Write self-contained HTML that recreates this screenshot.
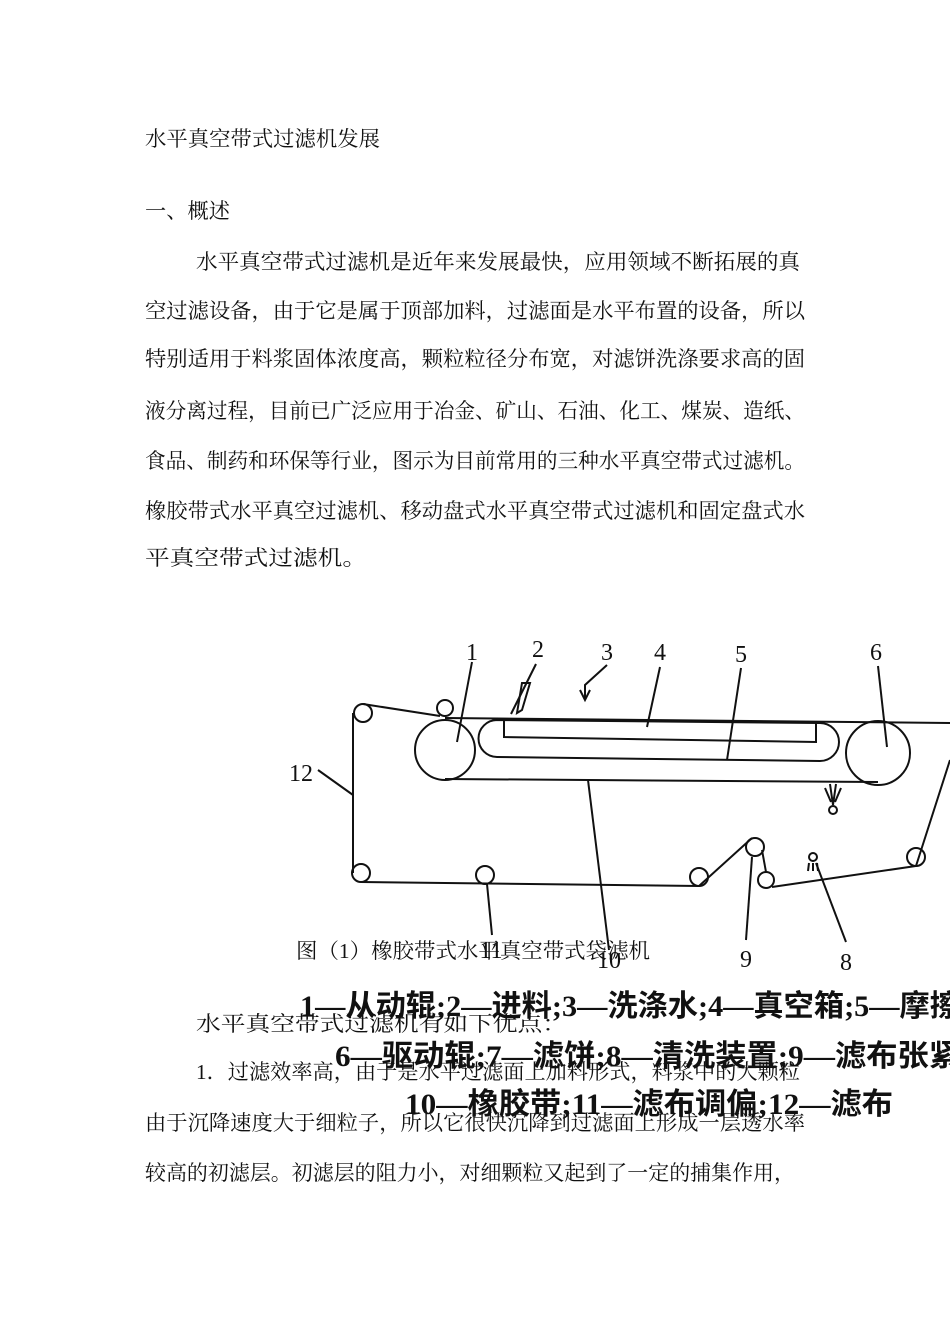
<!DOCTYPE html>
<html><head><meta charset="utf-8"><style>
html,body{margin:0;padding:0;background:#fff;width:950px;height:1344px;overflow:hidden}
svg text{font-family:"Liberation Serif","Noto Serif CJK SC","Noto Sans CJK SC",serif;fill:#111}
.b{font-size:21px}
.lg{font-family:"Liberation Serif","Noto Sans CJK SC",serif;font-weight:bold;font-size:30px}
.n{font-size:24px}
</style></head><body>
<svg width="950" height="1344" viewBox="0 0 950 1344" xmlns="http://www.w3.org/2000/svg">
<text x="145" y="146" textLength="235" lengthAdjust="spacingAndGlyphs" class="b">水平真空带式过滤机发展</text>
<text x="145" y="218" textLength="85" lengthAdjust="spacingAndGlyphs" class="b">一、概述</text>
<text x="196" y="269" textLength="604" lengthAdjust="spacingAndGlyphs" class="b">水平真空带式过滤机是近年来发展最快，应用领域不断拓展的真</text>
<text x="145" y="318" textLength="660" lengthAdjust="spacingAndGlyphs" class="b">空过滤设备，由于它是属于顶部加料，过滤面是水平布置的设备，所以</text>
<text x="145" y="366" textLength="660" lengthAdjust="spacingAndGlyphs" class="b">特别适用于料浆固体浓度高，颗粒粒径分布宽，对滤饼洗涤要求高的固</text>
<text x="145" y="418" textLength="660" lengthAdjust="spacingAndGlyphs" class="b">液分离过程，目前已广泛应用于冶金、矿山、石油、化工、煤炭、造纸、</text>
<text x="145" y="468" textLength="660" lengthAdjust="spacingAndGlyphs" class="b">食品、制药和环保等行业，图示为目前常用的三种水平真空带式过滤机。</text>
<text x="145" y="518" textLength="660" lengthAdjust="spacingAndGlyphs" class="b">橡胶带式水平真空过滤机、移动盘式水平真空带式过滤机和固定盘式水</text>
<text x="145" y="565" textLength="222" lengthAdjust="spacingAndGlyphs" class="b">平真空带式过滤机。</text>
<g fill="none" stroke="#111" stroke-width="2">
<circle cx="445" cy="750" r="30"/>
<circle cx="445" cy="708" r="8"/>
<circle cx="363" cy="713" r="9"/>
<circle cx="361" cy="873" r="9"/>
<circle cx="485" cy="875" r="9"/>
<circle cx="699" cy="877" r="9"/>
<circle cx="755" cy="847" r="9"/>
<circle cx="766" cy="880" r="8"/>
<circle cx="813" cy="857" r="4"/>
<circle cx="916" cy="857" r="9"/>
<circle cx="878" cy="753" r="32"/>
<circle cx="833" cy="810" r="4"/>
<path d="M445 718 L950 723"/>
<path d="M445 779 L878 782"/>
<path d="M497 720 L820 723 A19 19 0 0 1 820 761 L497 757 A18 18 0 0 1 497 720 Z"/>
<path d="M504 719 L504 737 L816 742 L816 723"/>
<path d="M363 704 L440 716"/>
<path d="M353 713 L353 873"/>
<path d="M361 882 L699 886 L752 838"/>
<path d="M762 850 L766 872"/>
<path d="M772 887 L916 866 L950 760"/>
<path d="M517 713 L522 683 L530 683 L522 710 Z"/>
<path d="M536 664 L511 714"/>
<path d="M607 665 L585 685 L585 700"/>
<path d="M580 690 L585 700 L590 690"/>
<path d="M830 784 L833 805 M836 784 L833 805 M825 788 L831 802 M841 788 L835 802"/>
<path d="M809 863 L808 871 M813 863 L813 871 M817 863 L818 871"/>
<path d="M472 662 L457 742"/>
<path d="M660 667 L647 727"/>
<path d="M741 668 L727 760"/>
<path d="M878 666 L887 747"/>
<path d="M318 770 L353 795"/>
<path d="M588 780 L609 950"/>
<path d="M487 884 L492 935"/>
<path d="M752 857 L746 940"/>
<path d="M816 863 L846 942"/>
</g>
<g class="n" text-anchor="middle">
<text x="472" y="660" class="n">1</text>
<text x="538" y="657" class="n">2</text>
<text x="607" y="660" class="n">3</text>
<text x="660" y="660" class="n">4</text>
<text x="741" y="662" class="n">5</text>
<text x="876" y="660" class="n">6</text>
<text x="301" y="781" class="n">12</text>
<text x="609" y="968" class="n">10</text>
<text x="491" y="958" class="n">11</text>
<text x="746" y="967" class="n">9</text>
<text x="846" y="970" class="n">8</text>
</g>
<text x="296" y="958" textLength="354" lengthAdjust="spacingAndGlyphs" class="b">图（1）橡胶带式水平真空带式袋滤机</text>
<text x="300" y="1016" textLength="660" lengthAdjust="spacingAndGlyphs" class="lg">1—从动辊;2—进料;3—洗涤水;4—真空箱;5—摩擦</text>
<text x="335" y="1066" textLength="625" lengthAdjust="spacingAndGlyphs" class="lg">6—驱动辊;7—滤饼;8—清洗装置;9—滤布张紧</text>
<text x="405" y="1114" textLength="488" lengthAdjust="spacingAndGlyphs" class="lg">10—橡胶带;11—滤布调偏;12—滤布</text>
<text x="196" y="1031" textLength="371" lengthAdjust="spacingAndGlyphs" class="b">水平真空带式过滤机有如下优点：</text>
<text x="196" y="1079" textLength="604" lengthAdjust="spacingAndGlyphs" class="b">1．过滤效率高，由于是水平过滤面上加料形式，料浆中的大颗粒</text>
<text x="145" y="1130" textLength="660" lengthAdjust="spacingAndGlyphs" class="b">由于沉降速度大于细粒子，所以它很快沉降到过滤面上形成一层透水率</text>
<text x="145" y="1180" textLength="650" lengthAdjust="spacingAndGlyphs" class="b">较高的初滤层。初滤层的阻力小，对细颗粒又起到了一定的捕集作用，</text>
</svg>
</body></html>
